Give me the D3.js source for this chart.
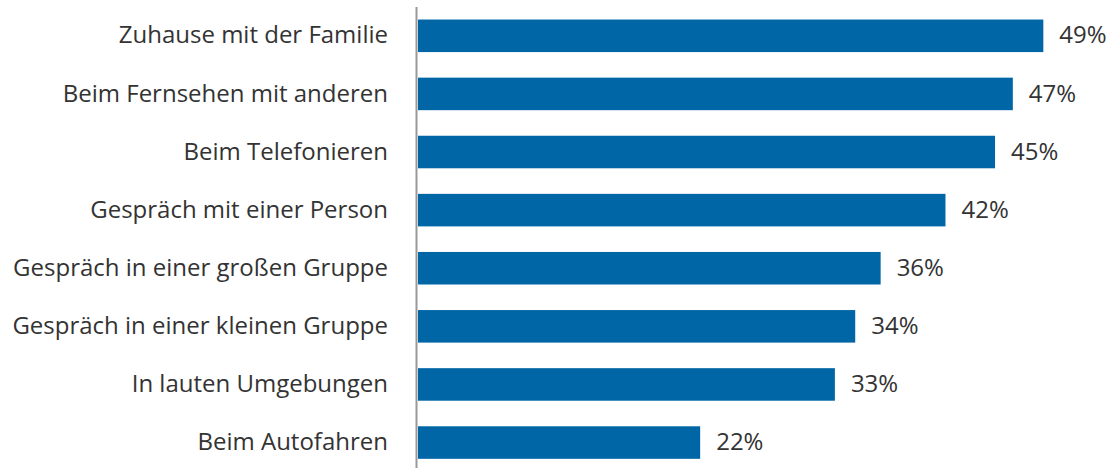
<!DOCTYPE html>
<html><head><meta charset="utf-8">
<script src="https://cdn.jsdelivr.net/npm/d3@7"></script>
<style>body{margin:0;background:#fff}svg{display:block}</style>
</head><body>
<script>
const categories = ["Zuhause mit der Familie","Beim Fernsehen mit anderen","Beim Telefonieren","Gespräch mit einer Person","Gespräch in einer großen Gruppe","Gespräch in einer kleinen Gruppe","In lauten Umgebungen","Beim Autofahren"];
const values = [49.2, 46.8, 45.4, 41.5, 36.4, 34.4, 32.8, 22.2];
const valueLabels = ["49%","47%","45%","42%","36%","34%","33%","22%"];

const W = 1111, H = 468;
const svg = d3.select("body").append("svg").attr("width", W).attr("height", H);
const x = d3.scaleLinear().domain([0, 50]).range([418, 418 + 12.71 * 50]);
const y = d3.scaleBand().domain(categories).range([6.75, 471.6]).paddingInner(0.44).paddingOuter(0.22);

svg.selectAll("rect.bar").data(categories).join("rect")
  .attr("class","bar")
  .attr("x", x(0))
  .attr("y", d => y(d))
  .attr("width", (d,i) => x(values[i]) - x(0))
  .attr("height", y.bandwidth())
  .attr("fill", "#0066a6");

const font = "'Open Sans', sans-serif";
svg.selectAll("text.cat").data(categories).join("text")
  .attr("class","cat")
  .attr("x", 388)
  .attr("y", d => y(d) + y.bandwidth()/2)
  .attr("dy", "0.32em")
  .attr("text-anchor","end")
  .attr("font-family", font)
  .attr("font-size", 24)
  .attr("fill", "#333")
  .text(d => d);

svg.selectAll("text.val").data(categories).join("text")
  .attr("class","val")
  .attr("x", (d,i) => x(values[i]) + 16)
  .attr("y", d => y(d) + y.bandwidth()/2)
  .attr("dy", "0.32em")
  .attr("font-family", font)
  .attr("font-size", 24)
  .attr("fill", "#333")
  .text((d,i) => valueLabels[i]);

svg.append("line")
  .attr("x1", 416.5).attr("x2", 416.5)
  .attr("y1", 7).attr("y2", H)
  .attr("stroke", "#999").attr("stroke-width", 2);
</script>
</body></html>
